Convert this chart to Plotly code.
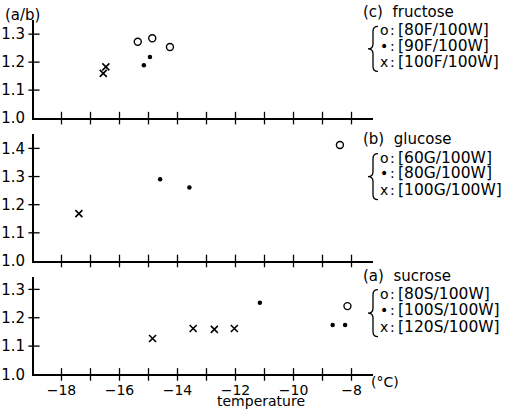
import plotly.graph_objects as go

# ---------------- data ----------------
# (c) fructose  (top panel)
fru80_T = [-15.37, -14.87, -14.26]
fru80_R = [1.273, 1.285, 1.254]
fru90_T = [-15.16, -14.95]
fru90_R = [1.189, 1.218]
fru100_T = [-16.56, -16.47]
fru100_R = [1.160, 1.183]

# (b) glucose  (middle panel)
glu60_T = [-8.40]
glu60_R = [1.412]
glu80_T = [-14.60, -13.59]
glu80_R = [1.290, 1.261]
glu100_T = [-17.40]
glu100_R = [1.168]

# (a) sucrose  (bottom panel)
suc80_T = [-8.14]
suc80_R = [1.241]
suc100_T = [-11.16, -8.65, -8.22]
suc100_R = [1.253, 1.174, 1.174]
suc120_T = [-14.86, -13.46, -12.73, -12.04]
suc120_R = [1.127, 1.162, 1.159, 1.162]

x_ticks_all = [-18, -17, -16, -15, -14, -13, -12, -11, -10, -9, -8]
x_tick_labels_vals = [-18, -16, -14, -12, -10, -8]
x_tick_labels = ["\u221218", "\u221216", "\u221214", "\u221212", "\u221210", "\u22128"]
y_ticks_short = [1.0, 1.1, 1.2, 1.3]
y_ticks_long = [1.0, 1.1, 1.2, 1.3, 1.4]

legend_c = ["[80F/100W]", "[90F/100W]", "[100F/100W]"]
legend_b = ["[60G/100W]", "[80G/100W]", "[100G/100W]"]
legend_a = ["[80S/100W]", "[100S/100W]", "[120S/100W]"]

# ---------------- layout geometry ----------------
W, H = 507, 418
FONT = "DejaVu Sans"
X_RANGE = [-18.948, -7.259]
X_DOM = [34 / W, 373 / W]

def px(x):
    return x / W

def py(y):
    return 1 - y / H

panels = {
    "top": ("x3", "y3", 1.352, [py(120.7), py(20)], y_ticks_short),
    "mid": ("x2", "y2", 1.451, [py(266.7), py(137)], y_ticks_long),
    "bot": ("x", "y", 1.344, [py(382.7), py(283)], y_ticks_short),
}

fig = go.Figure()

def add_points(T, R, xa, ya, kind):
    if kind == "open":
        marker = dict(symbol="circle-open", size=7, color="black", line=dict(width=1.4, color="black"))
    elif kind == "dot":
        marker = dict(symbol="circle", size=4.5, color="black")
    else:
        marker = dict(symbol="x-thin-open", size=7, color="black", line=dict(width=1.6, color="black"))
    fig.add_trace(go.Scatter(x=T, y=R, mode="markers", marker=marker, xaxis=xa, yaxis=ya,
                             showlegend=False, cliponaxis=False, hoverinfo="skip"))

add_points(fru80_T, fru80_R, "x3", "y3", "open")
add_points(fru90_T, fru90_R, "x3", "y3", "dot")
add_points(fru100_T, fru100_R, "x3", "y3", "x")
add_points(glu60_T, glu60_R, "x2", "y2", "open")
add_points(glu80_T, glu80_R, "x2", "y2", "dot")
add_points(glu100_T, glu100_R, "x2", "y2", "x")
add_points(suc80_T, suc80_R, "x", "y", "open")
add_points(suc100_T, suc100_R, "x", "y", "dot")
add_points(suc120_T, suc120_R, "x", "y", "x")

# crossing tick marks (drawn as markers on the axis lines)
for name, (xa, ya, ytop, dom, yt) in panels.items():
    fig.add_trace(go.Scatter(x=x_ticks_all, y=[1.0] * len(x_ticks_all), mode="markers",
                             marker=dict(symbol="line-ns-open", size=9, color="black",
                                         line=dict(width=1.3, color="black")),
                             xaxis=xa, yaxis=ya, showlegend=False, cliponaxis=False, hoverinfo="skip"))
    ytk = [v for v in yt if v > 1.0]
    fig.add_trace(go.Scatter(x=[X_RANGE[0]] * len(ytk), y=ytk, mode="markers",
                             marker=dict(symbol="line-ew-open", size=8, color="black",
                                         line=dict(width=1.3, color="black")),
                             xaxis=xa, yaxis=ya, showlegend=False, cliponaxis=False, hoverinfo="skip"))

layout = dict(
    width=W, height=H, autosize=False,
    margin=dict(l=0, r=0, t=0, b=0),
    paper_bgcolor="white", plot_bgcolor="white",
    font=dict(family=FONT, size=15, color="black"),
    showlegend=False,
)

for name, (xa, ya, ytop, dom, yt) in panels.items():
    xkey = "xaxis" if xa == "x" else "xaxis" + xa[1:]
    ykey = "yaxis" if ya == "y" else "yaxis" + ya[1:]
    layout[xkey] = dict(
        domain=X_DOM, range=X_RANGE, anchor=ya,
        showgrid=False, zeroline=False, showline=True, linewidth=1.7, linecolor="black",
        ticks="", tickmode="array",
        tickvals=x_tick_labels_vals if name == "bot" else [],
        ticktext=x_tick_labels if name == "bot" else [],
        showticklabels=(name == "bot"),
        tickfont=dict(family=FONT, size=14), ticklabelstandoff=2,
    )
    layout[ykey] = dict(
        domain=dom, range=[1.0, ytop], anchor=xa,
        showgrid=False, zeroline=False, showline=True, linewidth=1.7, linecolor="black",
        ticks="", tickmode="array", tickvals=yt, ticktext=["%.1f" % v for v in yt],
        tickfont=dict(family=FONT, size=15), ticklabelstandoff=4,
    )

fig.update_layout(**layout)

annotations = []
def text(x, y, s, anchor="left", size=15):
    annotations.append(dict(x=px(x), y=py(y), xref="paper", yref="paper", text=s, showarrow=False,
                            xanchor=anchor, yanchor="middle", borderpad=0,
                            font=dict(family=FONT, size=size, color="black")))

text(4, 15, "(a/b)")
text(261, 410, "temperature", anchor="center", size=14)
text(370, 390, "(\u00b0C)", size=14)

shapes = []
def brace(xl, ytop_px, ybot_px):
    xm = xl + 5
    xr = xl + 10
    yc = (ytop_px + ybot_px) / 2
    r = 5
    pts = [
        f"M {px(xr)},{py(ytop_px)}",
        f"Q {px(xm)},{py(ytop_px)} {px(xm)},{py(ytop_px + r)}",
        f"L {px(xm)},{py(yc - r)}",
        f"Q {px(xm)},{py(yc)} {px(xl)},{py(yc)}",
        f"Q {px(xm)},{py(yc)} {px(xm)},{py(yc + r)}",
        f"L {px(xm)},{py(ybot_px - r)}",
        f"Q {px(xm)},{py(ybot_px)} {px(xr)},{py(ybot_px)}",
    ]
    shapes.append(dict(type="path", path=" ".join(pts), xref="paper", yref="paper",
                       line=dict(color="black", width=1.3)))

def legend(head, head_y, rows, row_ys):
    text(362, head_y, head)
    syms = ["o", "\u2022", "x"]
    for s, lab, y in zip(syms, rows, row_ys):
        text(384, y, s, anchor="center", size=14)
        text(392, y, ":", anchor="center", size=14)
        text(397, y, lab, anchor="left", size=15.5)
    brace(368, row_ys[0] - 4, row_ys[-1] + 10)

legend("(c)  fructose", 12, legend_c, [31, 47, 63])
legend("(b)  glucose", 142, legend_b, [161, 177, 194])
legend("(a)  sucrose", 282, legend_a, [300, 317, 334])

fig.update_layout(annotations=annotations, shapes=shapes)
fig.write_html("out.html", config={"responsive": False},
               post_script="document.documentElement.style.margin='0';document.body.style.margin='0';"
                           "document.body.style.overflow='hidden';")
